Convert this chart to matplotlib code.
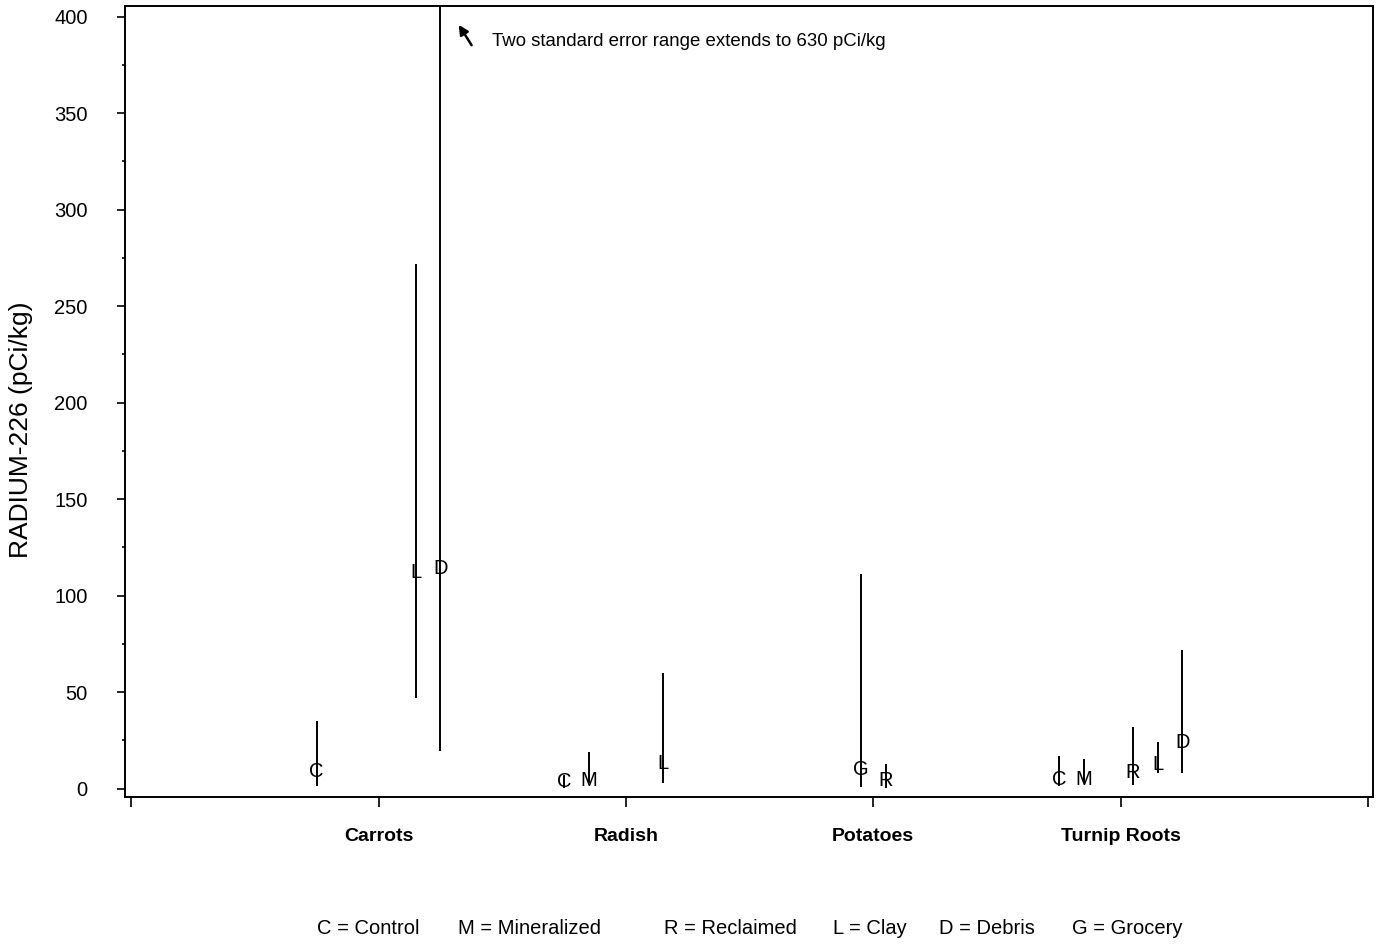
import numpy as np
import matplotlib
matplotlib.use("Agg")
import matplotlib.pyplot as plt
import matplotlib.ticker as ticker

plt.rcParams['font.family'] = ['Liberation Sans', 'DejaVu Sans']

# crops along the x axis
crops = ["Carrots", "Radish", "Potatoes", "Turnip Roots"]

# one entry per plotted point: crop, soil letter, mean and two-standard-error range
point_crop = ["Carrots", "Carrots", "Carrots",
              "Radish", "Radish", "Radish",
              "Potatoes", "Potatoes",
              "Turnip Roots", "Turnip Roots", "Turnip Roots", "Turnip Roots", "Turnip Roots"]
point_soil = ["C", "L", "D",
              "C", "M", "L",
              "G", "R",
              "C", "M", "R", "L", "D"]
mean = [9, 112, 114,
        3.5, 4.5, 13,
        10, 4,
        5, 5, 8.5, 12.5, 24]
lower = [1.5, 47, 19.5,
         0.5, 3, 3,
         1, 0.5,
         1.5, 3, 2, 8, 8]
upper = [35, 272, 630,
         7, 19, 60,
         111, 13,
         17, 15.5, 32, 24, 72]

legend_codes = ["C", "M", "R", "L", "D", "G"]
legend_names = ["Control", "Mineralized", "Reclaimed", "Clay", "Debris", "Grocery"]

# horizontal offset of each soil type inside a crop group
soil_offset = {"C": -0.25, "M": -0.15, "G": -0.05, "R": 0.05, "L": 0.15, "D": 0.25}

fig = plt.figure(figsize=(13.8, 9.44), dpi=100)
ax = fig.add_axes([0.0906, 0.1557, 0.9043, 0.8379])

for crop, soil, m, lo, hi in zip(point_crop, point_soil, mean, lower, upper):
    x = crops.index(crop) + 1 + soil_offset[soil]
    ax.vlines(x, lo, hi, color="black", lw=1.4)
    ax.text(x, m, soil, ha="center", va="center", fontsize=14.5, color="black")

ax.set_xlim(-0.025, 5.02)
ax.set_ylim(-4.3, 405.5)

# category labels under the ticks
ax.set_xticks(range(6))
ax.set_xticklabels([""] + crops + [""], fontsize=14, fontweight="bold")
ax.tick_params(axis="x", direction="out", length=7, width=1.2, pad=15)

ax.yaxis.set_major_locator(ticker.MultipleLocator(50))
ax.yaxis.set_minor_locator(ticker.MultipleLocator(25))
ax.tick_params(axis="y", which="major", direction="out", length=6, width=1.2,
               labelsize=14.5, pad=21)
ax.tick_params(axis="y", which="minor", direction="out", length=2, width=1.2)

for sp in ax.spines.values():
    sp.set_linewidth(1.4)

fig.text(0.0155, 0.545, "RADIUM-226 (pCi/kg)", rotation=90, ha="center", va="center",
         fontsize=19)

ax.annotate("", xy=(1.318, 397), xytext=(1.382, 384),
            arrowprops=dict(arrowstyle="-|>", color="black", lw=1.8, mutation_scale=14))
ax.text(1.46, 387, "Two standard error range extends to 630 pCi/kg",
        ha="left", va="center", fontsize=13.4)

legend_x = [368, 530, 730, 870, 987, 1127]
for px, code, name in zip(legend_x, legend_codes, legend_names):
    fig.text(px / 1380, 1 - 929 / 944, f"{code} = {name}", ha="center", va="center",
             fontsize=14.5)

fig.savefig("out.png", dpi=100)
